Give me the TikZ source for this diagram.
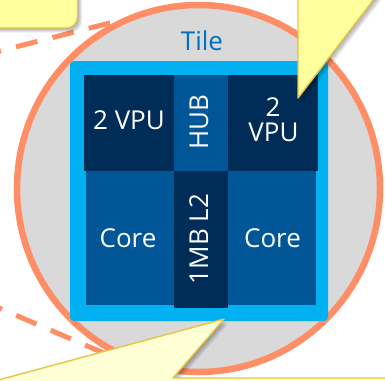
\documentclass[tikz,border=0pt]{standalone}
\usepackage{fontspec}
\setmainfont{Open Sans}
\definecolor{navy}{HTML}{002D57}
\definecolor{midblue}{HTML}{005696}
\definecolor{lightblue}{HTML}{00B0F0}
\definecolor{tilegray}{HTML}{D9D9D9}
\definecolor{salmon}{HTML}{FF8D66}
\definecolor{tileblue}{HTML}{0070C0}
\definecolor{callyellow}{HTML}{FFFF9E}
\definecolor{callpale}{HTML}{FFFFD6}
\definecolor{gold}{HTML}{E6C444}
\tikzset{
  blk/.style={draw=none, inner sep=0, outer sep=0, anchor=north west},
  lbl/.style={text=white, font=\fontsize{26}{26}\selectfont, anchor=base, inner sep=0},
  callout/.style={draw=gold, line width=1.4pt, line join=round},
  dashline/.style={draw=salmon, line width=5pt, dash pattern=on 22pt off 15.5pt},
}
\newcommand\softshadow[1]{%
  \foreach \s in {1,...,5}{\fill[black, opacity=0.07, shift={(\s*0.9,\s*0.9)}] #1;}}
\begin{document}
\begin{tikzpicture}[x=1pt,y=-1pt]
\useasboundingbox (0,0) rectangle (385,380);
\clip (0,0) rectangle (385,380);
% tile circle
\draw[fill=tilegray, draw=salmon, line width=6.5pt] (198.5,188.5) ellipse [x radius=181.5, y radius=183.5];
% dashed leader lines
\coordinate (d1a) at (-10,53.5);
\coordinate (d1b) at (112.1,22.4);
\coordinate (d2a) at (-10,304.1);
\coordinate (d2b) at (106,354);
\path[dashline, dash phase=10.6pt] (d1a) -- (d1b);
\path[dashline, dash phase=9pt] (d2a) -- (d2b);
\node[text=tileblue, font=\fontsize{26}{26}\selectfont, anchor=base, inner sep=0] (tile) at (202,50) {Tile};
% light blue frame
\node[blk, fill=lightblue, rounded corners=4pt, minimum width=258, minimum height=260] (frame) at (70,61) {};
% blocks
\node[blk, fill=navy, minimum width=90, minimum height=96] (vpu1) at (84,75) {};
\node[blk, fill=midblue, minimum width=54, minimum height=96] (hub) at (174,75) {};
\node[blk, fill=navy, minimum width=90, minimum height=96] (vpu2) at (228,75) {};
\node[blk, fill=midblue, minimum width=88, minimum height=134] (core1) at (86,171) {};
\node[blk, fill=navy, minimum width=54, minimum height=137] (l2) at (174,171) {};
\node[blk, fill=midblue, minimum width=88, minimum height=134] (core2) at (228,171) {};
% labels
\node[lbl] (tvpu1) at (129,129) {2 VPU};
\node[lbl, rotate=90] (thub) at (208,122.5) {HUB};
\node[lbl] (tvpu2a) at (273,116) {2};
\node[lbl] (tvpu2b) at (273.5,141) {VPU};
\node[lbl] (tcore1) at (128,247) {Core};
\node[lbl, rotate=90] (tl2) at (208,239) {1MB L2};
\node[lbl] (tcore2) at (272.5,247) {Core};
% callouts
\softshadow{[rounded corners=11pt] (-30,-30) rectangle (77.5,28)}
\fill[callyellow] [rounded corners=11pt] (-30,-30) rectangle (77.5,28);
\draw[callout] [rounded corners=11pt] (-30,-30) rectangle (77.5,28);
\softshadow{(298,-10) -- (298,98) -- (381,-10) -- cycle}
\fill[callyellow] (298,-10) -- (298,98) -- (381,-10) -- cycle;
\draw[callout] (298,-10) -- (298,98) -- (381,-10);
\softshadow{(224,319) -- (173,378) -- (400,378) -- (400,400) -- (-20,400) -- (-20,385) -- cycle}
\fill[callpale] (224,319) -- (173,378) -- (400,378) -- (400,400) -- (-20,400) -- (-20,385) -- cycle;
\draw[callout] (-20,385) -- (224,319) -- (173,378) -- (400,378);
\end{tikzpicture}
\end{document}
